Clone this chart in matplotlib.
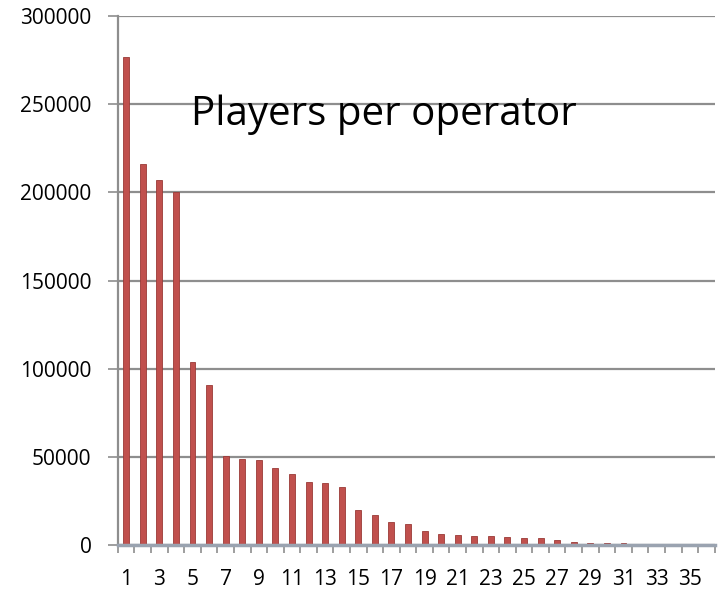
import matplotlib
matplotlib.use("Agg")
import matplotlib.pyplot as plt
from matplotlib.ticker import FixedLocator

categories = list(range(1, 37))
players = [277000, 216000, 207000, 200500, 103800, 90700, 50500, 49000, 48000,
           43800, 40200, 35500, 35200, 32800, 19800, 16800, 12800, 11700,
           8100, 6000, 5500, 5300, 5100, 4500, 3800, 3800, 2800, 1700,
           1300, 1200, 1000, 300, 200, 150, 100, 100]
xtick_labels = [str(c) for c in categories if c % 2 == 1]
yticks = [0, 50000, 100000, 150000, 200000, 250000, 300000]
title = "Players per operator"

plt.rcParams['font.family'] = ['Open Sans', 'DejaVu Sans']

fig = plt.figure(figsize=(7.19, 5.89), dpi=100)
ax = fig.add_axes([0.164, 0.0747, 0.830, 0.898])

grid_col = "#8e8e8e"
ax.bar(categories, players, width=0.36, color="#c0504d", edgecolor="#9a3a37",
       linewidth=0.6, zorder=3)

ax.set_xlim(0.5, 36.5)
ax.set_ylim(0, 300000)
ax.set_yticks(yticks)
ax.set_yticklabels([str(v) for v in yticks])
ax.yaxis.grid(True, color=grid_col, linewidth=1.6, zorder=1)

odd = [c for c in categories if c % 2 == 1]
ax.xaxis.set_major_locator(FixedLocator(odd))
ax.set_xticklabels(xtick_labels)
ax.xaxis.set_minor_locator(FixedLocator([c - 0.5 for c in categories] + [36.5]))
ax.tick_params(axis='x', which='major', length=0, pad=17, labelsize=15)
ax.tick_params(axis='x', which='minor', length=6, width=1.2, color=grid_col)
ax.tick_params(axis='y', which='major', length=7, width=1.2, color=grid_col,
               pad=12, labelsize=15)

for s in ['top', 'right']:
    ax.spines[s].set_visible(False)
ax.spines['left'].set_color(grid_col)
ax.spines['left'].set_linewidth(1.6)
ax.spines['bottom'].set_color("#9aa3b0")
ax.spines['bottom'].set_linewidth(2.5)
ax.spines['bottom'].set_zorder(4)

ax.text(0.446, 0.794, title, transform=ax.transAxes, ha='center', va='baseline',
        fontsize=29, color='black', zorder=5)

fig.savefig("out.png", dpi=100, facecolor='white')
